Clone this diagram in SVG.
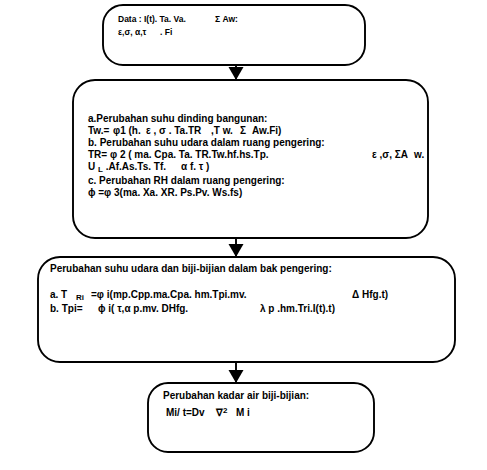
<svg xmlns="http://www.w3.org/2000/svg" width="487" height="470" viewBox="0 0 487 470">
<style>
.box{fill:none;stroke:#000;stroke-width:1.9}
.t{font-family:"Liberation Sans",Arial,sans-serif;font-weight:bold;font-size:10px;fill:#000}
.d{font-size:8.5px}
.s{font-size:8px}
.c{stroke:#000;stroke-width:1.9;fill:none}
</style>
<defs>
<marker id="ah" markerUnits="userSpaceOnUse" markerWidth="14" markerHeight="16" refX="13" refY="7.5" orient="auto">
<path d="M0,0 L13,7.5 L0,15 Z" fill="#000"/>
</marker>
</defs>
<g id="node-data">
<rect class="box" x="103" y="5" width="262" height="60" rx="20" ry="20"/>
<text class="t d" x="118" y="22">Data : I(t). Ta. Va.</text>
<text class="t d" x="215" y="22">Σ Aw:</text>
<text class="t d" x="118" y="35">ε,σ, α,τ</text>
<text class="t d" x="160" y="35">. Fi</text>
</g>
<g id="node-bangunan">
<rect class="box" x="73" y="80" width="355" height="158" rx="22" ry="22"/>
<text class="t" x="88" y="122">a.Perubahan suhu dinding bangunan:</text>
<text class="t" x="88" y="134">Tw.=</text>
<text class="t" x="113" y="134">φ1 (h.</text>
<text class="t" x="146" y="134">ε , σ . Ta.TR</text>
<text class="t" x="211" y="134">,T w.</text>
<text class="t" x="240" y="134">Σ</text>
<text class="t" x="252" y="134">Aw.Fi)</text>
<text class="t" x="88" y="146">b. Perubahan suhu udara dalam ruang pengering:</text>
<text class="t" x="88" y="158">TR=  φ 2 ( ma. Cpa. Ta. TR.Tw.hf.hs.Tp.</text>
<text class="t" x="372" y="158">ε ,σ, ΣA</text>
<text class="t" x="414" y="158">w.</text>
<text class="t" x="88" y="170">U <tspan class="s" dy="2">L</tspan><tspan dy="-2"> .Af.As.Ts. Tf.</tspan></text>
<text class="t" x="181" y="170">α f.  τ )</text>
<text class="t" x="88" y="184">c. Perubahan RH dalam ruang pengering:</text>
<text class="t" x="88" y="196">ϕ =φ 3(ma. Xa. XR. Ps.Pv. Ws.fs)</text>
</g>
<g id="node-bak">
<rect class="box" x="38" y="257" width="417" height="105" rx="22" ry="22"/>
<text class="t" x="50" y="272">Perubahan suhu udara dan biji-bijian dalam bak pengering:</text>
<text class="t" x="50" y="298">a. T</text>
<text class="t s" x="76" y="300">Ri</text>
<text class="t" x="91" y="298">=φ i(mp.Cpp.ma.Cpa. hm.Tpi.mv.</text>
<text class="t" x="352" y="298">Δ  Hfg.t)</text>
<text class="t" x="50" y="312">b. Tpi=</text>
<text class="t" x="98" y="312">ϕ i( τ,α  p.mv. DHfg.</text>
<text class="t" x="260" y="312">λ p .hm.Tri.I(t).t)</text>
</g>
<g id="node-kadar">
<rect class="box" x="148" y="383" width="226" height="69" rx="20" ry="20"/>
<text class="t" x="163" y="399">Perubahan kadar air biji-bijian:</text>
<text class="t" x="166" y="416">Mi/ t=Dv</text>
<text class="t" x="216" y="416">∇<tspan class="s" dy="-3">2</tspan></text>
<text class="t" x="236" y="416">M i</text>
</g>
<g id="connectors">
<line class="c" x1="236" y1="65" x2="236" y2="80" marker-end="url(#ah)"/>
<line class="c" x1="236" y1="238" x2="236" y2="257" marker-end="url(#ah)"/>
<line class="c" x1="236" y1="362" x2="236" y2="383" marker-end="url(#ah)"/>
</g>
</svg>
